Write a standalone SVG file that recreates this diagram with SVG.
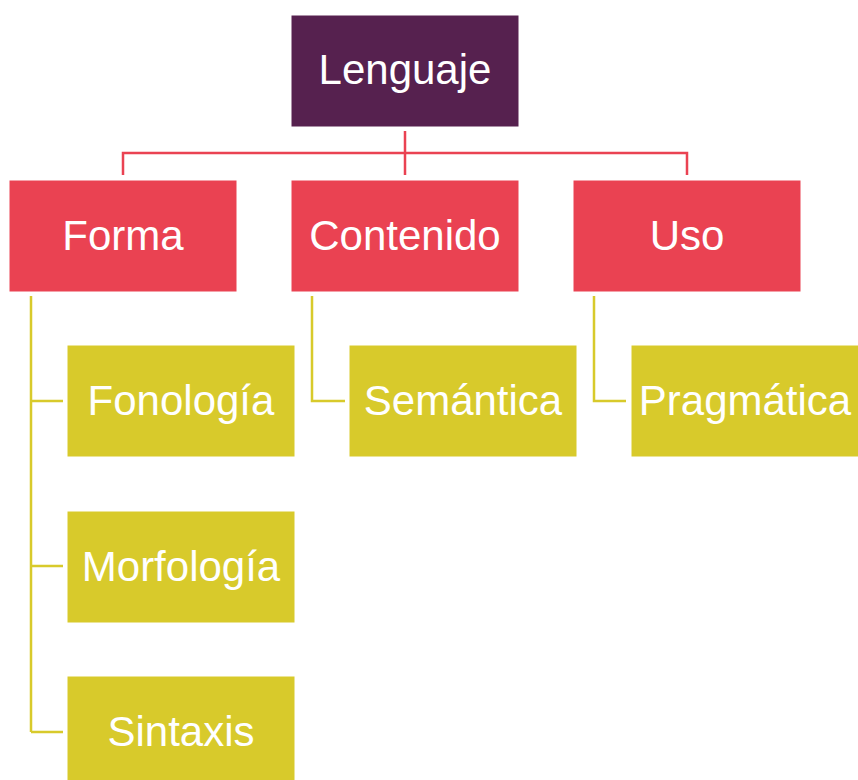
<svg xmlns="http://www.w3.org/2000/svg" width="858" height="780" viewBox="0 0 858 780">
<style>
.root{fill:#56214F}
.mid{fill:#EA4252}
.leaf{fill:#D8CA2B}
rect{stroke:#ffffff;stroke-width:1}
text{font-family:"Liberation Sans",Arial,sans-serif;font-size:42px;fill:#ffffff;text-anchor:middle}
.cr{stroke:#EA4252;stroke-width:2.5;fill:none}
.cy{stroke:#D8CA2B;stroke-width:2.5;fill:none}
</style>
<rect width="858" height="780" fill="#ffffff" stroke="none"/>
<g id="connectors">
<path class="cr" d="M405,131 V175 M123,175 V153 H687 V175"/>
<path class="cy" d="M31,296 V732 M31,401 H63 M31,566 H63 M31,732 H63"/>
<path class="cy" d="M312,296 V401 H345"/>
<path class="cy" d="M594,296 V401 H626"/>
</g>
<g id="lenguaje"><rect class="root" x="291" y="15" width="228" height="112"/><text x="405" y="84">Lenguaje</text></g>
<g id="forma"><rect class="mid" x="9" y="180" width="228" height="112"/><text x="123" y="250">Forma</text></g>
<g id="contenido"><rect class="mid" x="291" y="180" width="228" height="112"/><text x="405" y="250">Contenido</text></g>
<g id="uso"><rect class="mid" x="573" y="180" width="228" height="112"/><text x="687" y="250">Uso</text></g>
<g id="fonologia"><rect class="leaf" x="67" y="345" width="228" height="112"/><text x="181" y="415">Fonología</text></g>
<g id="morfologia"><rect class="leaf" x="67" y="511" width="228" height="112"/><text x="181" y="581">Morfología</text></g>
<g id="sintaxis"><rect class="leaf" x="67" y="676" width="228" height="112"/><text x="181" y="746">Sintaxis</text></g>
<g id="semantica"><rect class="leaf" x="349" y="345" width="228" height="112"/><text x="463" y="415">Semántica</text></g>
<g id="pragmatica"><rect class="leaf" x="631" y="345" width="228" height="112"/><text x="745" y="415">Pragmática</text></g>
</svg>
